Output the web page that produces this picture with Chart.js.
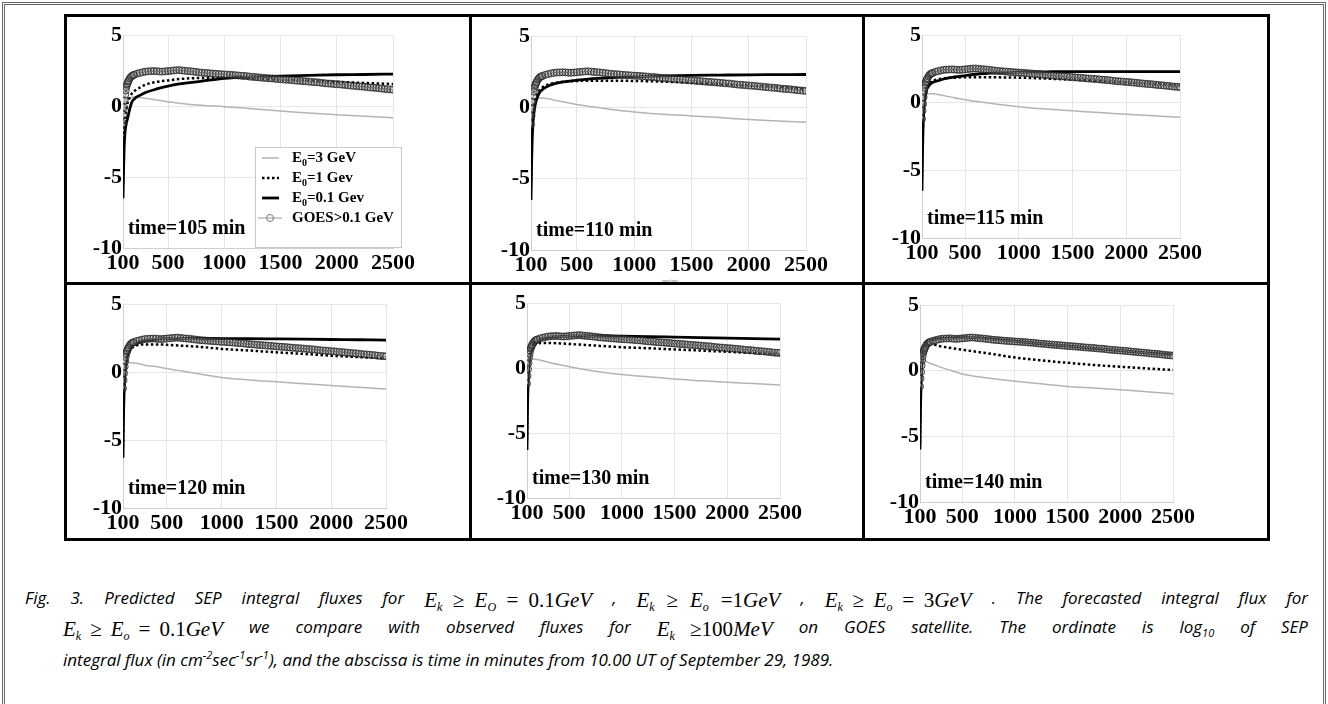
<!DOCTYPE html>
<html>
<head>
<meta charset="utf-8">
<script src="https://cdn.jsdelivr.net/npm/chart.js@4.4.1/dist/chart.umd.min.js"></script>
<style>
body{margin:0;background:#fff;width:1328px;height:704px;position:relative;overflow:hidden;}
#frame{position:absolute;left:2px;top:2px;width:1318px;height:720px;border:3px double #666;}
#tbl{position:absolute;left:64px;top:14px;width:1206px;height:527px;border:3px solid #000;box-sizing:border-box;}
.ln{position:absolute;background:#000;}
canvas{position:absolute;}
.cap{position:absolute;font-family:"Open Sans",sans-serif;font-style:italic;font-size:17px;line-height:22px;white-space:nowrap;color:#000;}
.just{text-align:justify;text-align-last:justify;white-space:normal;}
.m{display:inline-block;font-family:"Liberation Serif",serif;font-style:normal;font-size:21px;position:relative;top:3px;white-space:nowrap;text-align:justify;text-align-last:justify;}
.m i{font-style:italic;}
.m sub{font-size:12px;font-style:italic;vertical-align:-4px;}
.cap sup,.cap .lg{font-size:11px;}
.tiny{position:absolute;font-family:"Liberation Sans";font-size:4px;color:#777;}
</style>
</head>
<body>
<div id="frame"></div>
<div id="tbl"></div>
<div class="ln" style="left:469px;top:14px;width:3px;height:527px"></div>
<div class="ln" style="left:862px;top:14px;width:3px;height:527px"></div>
<div class="ln" style="left:64px;top:282px;width:1206px;height:3px"></div>
<span class="tiny" style="left:662px;top:278px">time(min)</span>

<div class="cap just" style="left:25px;top:586px;width:1283px">Fig. 3. Predicted SEP integral fluxes for <span class="m" style="width:168px"><i>E</i><sub>k</sub> ≥ <i>E</i><sub>O</sub> = 0.1<i>GeV</i></span> , <span class="m" style="width:144px"><i>E</i><sub>k</sub> ≥ <i>E</i><sub>o</sub> =1<i>GeV</i></span> , <span class="m" style="width:147px"><i>E</i><sub>k</sub> ≥ <i>E</i><sub>o</sub> = 3<i>GeV</i></span> . The forecasted integral flux for</div>
<div class="cap just" style="left:63px;top:615px;width:1245px"><span class="m" style="width:160px"><i>E</i><sub>k</sub> ≥ <i>E</i><sub>o</sub> = 0.1<i>GeV</i></span> we compare with observed fluxes for <span class="m" style="width:116px"><i>E</i><sub>k</sub> ≥100<i>MeV</i></span> on GOES satellite. The ordinate is log<sub class="lg">10</sub> of SEP</div>
<div class="cap" style="left:63px;top:644px">integral flux (in cm<sup>-2</sup>sec<sup>-1</sup>sr<sup>-1</sup>), and the abscissa is time in minutes from 10.00 UT of September 29, 1989.</div>

<script>
// ticks
const xTicks = [100, 500, 1000, 1500, 2000, 2500];
const yTicks = [-10, -5, 0, 5];

const seriesNames = ['E0=3 GeV', 'E0=1 Gev', 'E0=0.1 Gev', 'GOES>0.1 GeV'];
const panelLabels = ['time=105 min', 'time=110 min', 'time=115 min', 'time=120 min', 'time=130 min', 'time=140 min'];

// model time grid (min)
const modelTime = [100,105,110,115,120,130,140,160,180,200,250,300,400,500,600,800,1000,1250,1500,1750,2000,2250,2500];

// E0=3 GeV (log10 flux) per panel
const gev3_105 = [-1.2,-0.7,-0.3,0.0,0.2,0.4,0.5,0.58,0.62,0.63,0.6,0.55,0.42,0.3,0.2,0.05,-0.05,-0.2,-0.35,-0.5,-0.62,-0.72,-0.82];
const gev3_110 = [-1.2,-0.6,-0.2,0.1,0.3,0.5,0.58,0.63,0.65,0.65,0.6,0.52,0.35,0.2,0.08,-0.15,-0.32,-0.48,-0.6,-0.72,-0.85,-0.95,-1.05];
const gev3_115 = [-1.2,-0.6,-0.2,0.15,0.35,0.52,0.6,0.65,0.66,0.65,0.6,0.52,0.36,0.22,0.1,-0.12,-0.3,-0.47,-0.6,-0.73,-0.85,-0.97,-1.08];
const gev3_120 = [-1.3,-0.6,-0.1,0.25,0.45,0.6,0.65,0.68,0.68,0.66,0.6,0.5,0.4,0.25,0.12,-0.15,-0.4,-0.58,-0.72,-0.86,-1.0,-1.12,-1.25];
const gev3_130 = [-1.3,-0.5,0.0,0.3,0.5,0.65,0.7,0.7,0.68,0.65,0.55,0.45,0.27,0.1,-0.05,-0.3,-0.5,-0.68,-0.85,-0.98,-1.1,-1.2,-1.3];
const gev3_140 = [-1.3,-0.3,0.3,0.6,0.72,0.78,0.76,0.7,0.62,0.55,0.4,0.25,0.0,-0.25,-0.4,-0.62,-0.8,-1.0,-1.2,-1.32,-1.45,-1.6,-1.75];

// E0=1 GeV
const gev1_105 = [-5.5,-3.2,-2.0,-1.3,-0.8,-0.2,0.2,0.6,0.9,1.05,1.3,1.5,1.7,1.8,1.9,1.98,2.0,1.95,1.85,1.78,1.7,1.62,1.55];
const gev1_110 = [-5.5,-3.0,-1.8,-1.0,-0.5,0.2,0.6,1.0,1.25,1.4,1.6,1.7,1.8,1.85,1.87,1.87,1.85,1.8,1.72,1.62,1.52,1.42,1.3];
const gev1_115 = [-5.5,-2.8,-1.5,-0.7,-0.2,0.5,0.9,1.3,1.5,1.6,1.72,1.8,1.85,1.88,1.88,1.87,1.85,1.78,1.7,1.6,1.5,1.38,1.25];
const gev1_120 = [-5.5,-2.5,-1.2,-0.4,0.1,0.7,1.1,1.5,1.75,1.9,2.0,2.03,2.03,2.0,1.95,1.85,1.7,1.58,1.45,1.33,1.2,1.1,1.0];
const gev1_130 = [-5.5,-2.3,-1.0,-0.2,0.3,0.9,1.3,1.65,1.8,1.88,1.92,1.92,1.9,1.85,1.8,1.7,1.6,1.52,1.43,1.34,1.25,1.15,1.05];
const gev1_140 = [-5.5,-2.0,-0.5,0.5,1.1,1.7,2.0,2.15,2.15,2.1,1.95,1.85,1.72,1.6,1.48,1.25,1.0,0.78,0.6,0.43,0.3,0.17,0.05];

// E0=0.1 GeV
const gev01_105 = [-6.5,-4.5,-3.0,-2.2,-1.7,-1.2,-0.9,-0.2,0.3,0.5,0.75,0.95,1.2,1.4,1.55,1.75,1.95,2.05,2.1,2.15,2.2,2.22,2.25];
const gev01_110 = [-6.5,-4.0,-2.3,-1.4,-0.8,-0.1,0.3,0.8,1.1,1.25,1.5,1.65,1.8,1.9,1.98,2.08,2.15,2.2,2.24,2.26,2.28,2.29,2.3];
const gev01_115 = [-6.5,-3.5,-1.8,-0.8,-0.2,0.5,0.9,1.2,1.4,1.5,1.62,1.75,1.9,2.0,2.1,2.2,2.25,2.28,2.3,2.3,2.3,2.3,2.3];
const gev01_120 = [-6.3,-3.2,-1.5,-0.5,0.1,0.8,1.2,1.6,1.85,2.0,2.2,2.3,2.4,2.45,2.47,2.47,2.46,2.45,2.43,2.41,2.39,2.37,2.35];
const gev01_130 = [-6.3,-3.0,-1.3,-0.3,0.3,1.0,1.4,1.8,2.0,2.12,2.28,2.35,2.42,2.45,2.46,2.46,2.45,2.42,2.38,2.34,2.3,2.26,2.22];
const gev01_140 = [-6.0,-2.8,-1.0,0.0,0.6,1.3,1.7,2.05,2.2,2.3,2.4,2.45,2.5,2.52,2.52,2.4,2.25,2.05,1.88,1.7,1.52,1.35,1.2];

// GOES >100 MeV observed
const goesTime = [
	100,105,110,115,120,125,130,135,140,145,150,160,170,180,190,200,
	225,250,275,300,325,350,375,400,425,450,
	475,500,525,550,575,600,625,650,675,700,
	725,750,775,800,825,850,875,900,925,950,
	975,1000,1025,1050,1075,1100,1125,1150,1175,1200,
	1225,1250,1275,1300,1325,1350,1375,1400,1425,1450,
	1475,1500,1525,1550,1575,1600,1625,1650,1675,1700,
	1725,1750,1775,1800,1825,1850,1875,1900,1925,1950,
	1975,2000,2025,2050,2075,2100,2125,2150,2175,2200,
	2225,2250,2275,2300,2325,2350,2375,2400,2425,2450,
	2475,2500
];
const goesFlux = [
	-1.2,-0.6,-0.1,0.4,0.8,1.1,1.35,1.5,1.6,1.72,1.8,1.95,2.05,2.12,2.17,2.2,
	2.28,2.33,2.38,2.42,2.44,2.45,2.46,2.45,2.43,2.42,
	2.44,2.46,2.48,2.5,2.52,2.53,2.5,2.48,2.46,2.45,
	2.42,2.4,2.37,2.35,2.33,2.32,2.3,2.28,2.27,2.25,
	2.24,2.22,2.21,2.2,2.18,2.17,2.15,2.13,2.12,2.1,
	2.07,2.05,2.04,2.02,2.0,1.98,1.97,1.95,1.94,1.92,
	1.9,1.88,1.87,1.85,1.84,1.82,1.8,1.78,1.77,1.75,
	1.74,1.72,1.7,1.68,1.67,1.65,1.62,1.6,1.58,1.57,
	1.55,1.53,1.52,1.5,1.48,1.46,1.44,1.42,1.4,1.38,
	1.37,1.35,1.32,1.3,1.29,1.27,1.25,1.23,1.2,1.18,
	1.17,1.15
];

const gev3 = [gev3_105, gev3_110, gev3_115, gev3_120, gev3_130, gev3_140];
const gev1 = [gev1_105, gev1_110, gev1_115, gev1_120, gev1_130, gev1_140];
const gev01 = [gev01_105, gev01_110, gev01_115, gev01_120, gev01_130, gev01_140];

// plot rectangles on the page: left, top, right, bottom
const plotBoxes = [
	[123, 35, 393, 248],
	[531, 36, 806, 250],
	[922, 35, 1180, 238],
	[123, 304, 386, 508],
	[527, 303, 780, 498],
	[920, 305, 1173, 502]
];

const styles = [
	{color:'#b4b4b4', width:1.5, dash:[]},
	{color:'#000', width:2.5, dash:[2.5,2.5]},
	{color:'#000', width:2.8, dash:[]},
	{color:'#9a9a9a', width:1, dash:[], marker:true}
];

const AXW = 58, AXH = 35, PADT = 15, PADR = 30;

function pts(xs, ys) { return xs.map((x, i) => ({x: x, y: ys[i]})); }

function drawLabelSub(ctx, text, x, y) {
	// "E0=..." -> E with subscript 0
	if (text.startsWith('E0')) {
		ctx.font = 'bold 15px "Liberation Serif"';
		ctx.fillText('E', x, y);
		let w = ctx.measureText('E').width;
		ctx.font = 'bold 10px "Liberation Serif"';
		ctx.fillText('0', x + w, y + 5);
		w += ctx.measureText('0').width;
		ctx.font = 'bold 15px "Liberation Serif"';
		ctx.fillText(text.slice(2), x + w, y);
	} else {
		ctx.font = 'bold 15px "Liberation Serif"';
		ctx.fillText(text, x, y);
	}
}

const panelText = {
	id: 'panelText',
	afterDatasetsDraw(chart, args, opts) {
		const ctx = chart.ctx, a = chart.chartArea;
		ctx.save();
		ctx.fillStyle = '#000';
		ctx.textBaseline = 'middle';
		ctx.font = 'bold 20px "Liberation Serif"';
		ctx.fillText(opts.label, a.left + 5, a.bottom - 19);
		if (opts.legend) {
			const x0 = a.right - 138, y0 = a.bottom - 101, w = 146, h = 100;
			ctx.fillStyle = '#fff';
			ctx.fillRect(x0, y0, w, h);
			ctx.strokeStyle = '#c8c8c8';
			ctx.lineWidth = 1;
			ctx.strokeRect(x0 + 0.5, y0 + 0.5, w, h);
			seriesNames.forEach((name, i) => {
				const y = y0 + 11 + i * 20;
				const st = styles[i];
				ctx.beginPath();
				ctx.setLineDash(st.dash);
				ctx.strokeStyle = st.color;
				ctx.lineWidth = st.width;
				if (st.marker) { ctx.moveTo(x0 + 3, y); ctx.lineTo(x0 + 27, y); }
				else { ctx.moveTo(x0 + 7, y); ctx.lineTo(x0 + 24, y); }
				ctx.stroke();
				ctx.setLineDash([]);
				if (st.marker) {
					ctx.beginPath();
					ctx.strokeStyle = '#777';
					ctx.arc(x0 + 15, y, 3.5, 0, Math.PI * 2);
					ctx.stroke();
				}
				ctx.fillStyle = '#000';
				drawLabelSub(ctx, name, x0 + 37, y);
			});
		}
		ctx.restore();
	}
};

plotBoxes.forEach((b, p) => {
	const cv = document.createElement('canvas');
	const w = (b[2] - b[0]) + AXW + PADR;
	const h = (b[3] - b[1]) + PADT + AXH;
	cv.width = w; cv.height = h;
	cv.style.left = (b[0] - AXW) + 'px';
	cv.style.top = (b[1] - PADT) + 'px';
	cv.style.width = w + 'px';
	cv.style.height = h + 'px';
	document.body.appendChild(cv);

	const tickFont = {family: 'Liberation Serif', weight: 'bold', size: 22};
	new Chart(cv.getContext('2d'), {
		type: 'line',
		data: {
			datasets: [
				{label: seriesNames[0], data: pts(modelTime, gev3[p]), borderColor: styles[0].color, borderWidth: styles[0].width, pointRadius: 0, cubicInterpolationMode: 'monotone', order: 3},
				{label: seriesNames[1], data: pts(modelTime, gev1[p]), borderColor: styles[1].color, borderWidth: styles[1].width, borderDash: styles[1].dash, pointRadius: 0, cubicInterpolationMode: 'monotone', order: 2},
				{label: seriesNames[2], data: pts(modelTime, gev01[p]), borderColor: styles[2].color, borderWidth: styles[2].width, pointRadius: 0, cubicInterpolationMode: 'monotone', order: 1},
				{label: seriesNames[3], data: pts(goesTime, goesFlux), borderColor: styles[3].color, borderWidth: 1, pointRadius: 3.5, pointBorderWidth: 1, pointBorderColor: 'rgba(30,30,30,0.8)', pointBackgroundColor: 'rgba(150,150,150,0.25)', order: 0}
			]
		},
		options: {
			responsive: false,
			animation: false,
			devicePixelRatio: 1,
			layout: {padding: {top: PADT, right: PADR, left: 0, bottom: 0}},
			plugins: {
				legend: {display: false},
				tooltip: {enabled: false},
				panelText: {label: panelLabels[p], legend: p === 0}
			},
			scales: {
				x: {
					type: 'linear', min: 100, max: 2500,
					afterBuildTicks: s => { s.ticks = xTicks.map(v => ({value: v})); },
					afterFit: s => { s.height = AXH; },
					grid: {color: '#e6e6e6', drawTicks: false},
					border: {color: '#d0d0d0'},
					ticks: {padding: 2, color: '#000', font: tickFont, autoSkip: false, maxRotation: 0, callback: v => String(v)}
				},
				y: {
					min: -10, max: 5,
					afterBuildTicks: s => { s.ticks = yTicks.map(v => ({value: v})); },
					afterFit: s => { s.width = AXW; },
					grid: {color: '#e6e6e6', drawTicks: false},
					border: {color: '#d0d0d0'},
					ticks: {padding: 1, color: '#000', font: tickFont, callback: v => String(v)}
				}
			}
		},
		plugins: [panelText]
	});
});
</script>
</body>
</html>
